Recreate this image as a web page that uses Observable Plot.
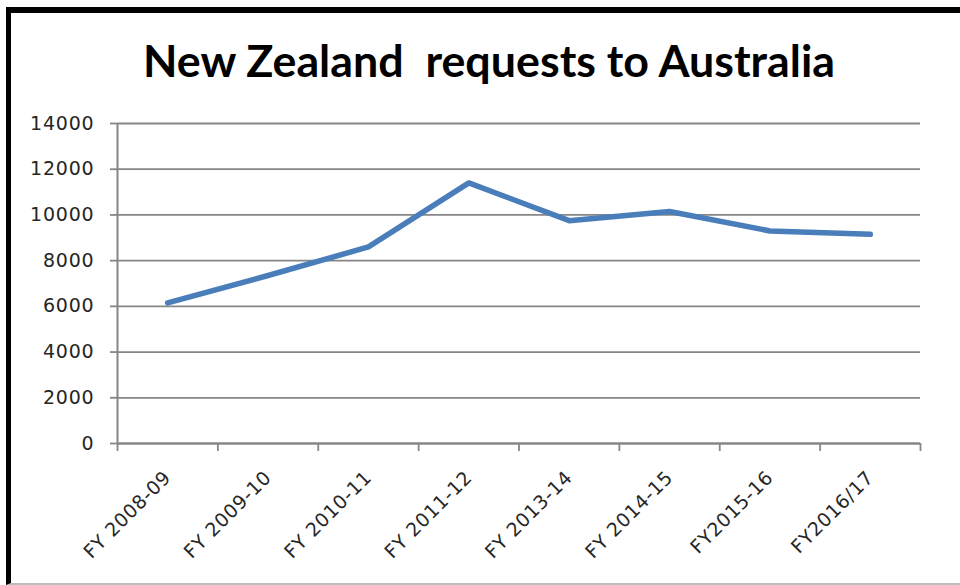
<!DOCTYPE html>
<html><head><meta charset="utf-8">
<script src="https://cdn.jsdelivr.net/npm/d3@7"></script>
<script src="https://cdn.jsdelivr.net/npm/@observablehq/plot@0.6"></script>
<style>
html,body{margin:0;padding:0;background:#fff;width:960px;height:585px;overflow:hidden}
#frame{position:absolute;left:6px;top:7px;width:960px;height:578px;border-top:6px solid #000;border-left:5px solid #000;border-bottom:2px solid #bdbdbd;box-sizing:border-box}
#chart{position:absolute;left:0;top:0}
#titlesvg{position:absolute;left:0;top:0}
</style></head>
<body>
<div id="frame"></div>
<div id="chart"></div>
<svg id="titlesvg" width="960" height="110"><text id="title" x="489" y="77" text-anchor="middle" font-family="Lato, 'Open Sans', sans-serif" font-weight="bold" font-size="43" fill="#000" style="white-space:pre" textLength="692" lengthAdjust="spacingAndGlyphs">New Zealand  requests to Australia</text></svg>
<script>
const categories = ["FY 2008-09","FY 2009-10","FY 2010-11","FY 2011-12","FY 2013-14","FY 2014-15","FY2015-16","FY2016/17"];
const values = [6150, 7350, 8600, 11400, 9750, 10150, 9300, 9150];
const yTicks = [0, 2000, 4000, 6000, 8000, 10000, 12000, 14000];

const n = categories.length;
const data = categories.map((c, i) => ({i, c, v: values[i]}));
const gray = "#868686";

const chart = Plot.plot({
  width: 960, height: 585,
  marginLeft: 117, marginRight: 40, marginTop: 123, marginBottom: 142,
  x: {domain: [0, n], axis: null},
  y: {domain: [0, 14000], axis: null},
  style: {fontFamily: "'DejaVu Sans', sans-serif", fontSize: "19px", background: "transparent", color: "#262626", letterSpacing: "0.8px"},
  marks: [
    Plot.gridY(yTicks, {stroke: gray, strokeOpacity: 1, strokeWidth: 1.8}),
    Plot.axisY({ticks: yTicks, label: null, tickSize: 7, tickPadding: 16, stroke: gray, strokeWidth: 1.8, fill: "#262626", tickFormat: d => String(d)}),
    Plot.axisX({ticks: d3.range(0, n + 1), label: null, tickSize: 8, stroke: gray, strokeWidth: 1.8, tickFormat: () => ""}),
    Plot.axisX({ticks: d3.range(n).map(i => i + 0.5), label: null, tickSize: 0, tickPadding: 31, tickRotate: -45, fill: "#262626", fontSize: 19, tickFormat: d => categories[Math.round(d - 0.5)]}),
    Plot.ruleX([0], {stroke: gray, strokeWidth: 2}),
    Plot.ruleY([0], {stroke: gray, strokeWidth: 2}),
    Plot.lineY(data, {x: d => d.i + 0.5, y: "v", stroke: "#4a7ebb", strokeWidth: 5.5, strokeLinejoin: "round", strokeLinecap: "round"})
  ]
});
chart.querySelectorAll('g[aria-label="x-axis tick label"] text').forEach(t => t.style.letterSpacing = "0.6px");
document.getElementById("chart").appendChild(chart);
</script>
</body></html>
